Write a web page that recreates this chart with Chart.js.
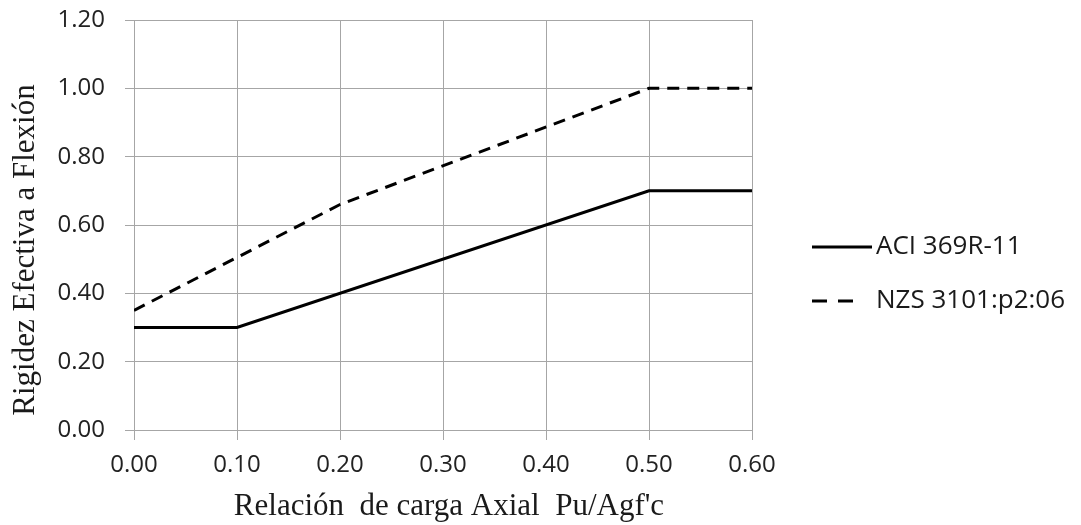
<!DOCTYPE html>
<html lang="es">
<head>
<meta charset="utf-8">
<title>Rigidez efectiva a flexión</title>
<script src="https://cdn.jsdelivr.net/npm/chart.js@4/dist/chart.umd.min.js"></script>
<style>
  html, body { margin: 0; padding: 0; background: #fff; }
  #chart { display: block; }
</style>
</head>
<body>
<canvas id="chart" width="1081" height="525"></canvas>
<script>
// --- datos ---
const aciX = [0, 0.1, 0.5, 0.6];
const aciY = [0.3, 0.3, 0.7, 0.7];
const nzsX = [0, 0.2, 0.5, 0.6];
const nzsY = [0.35, 0.66, 1.0, 1.0];
const xTicks = [0, 0.1, 0.2, 0.3, 0.4, 0.5, 0.6];
const yTicks = [0, 0.2, 0.4, 0.6, 0.8, 1.0, 1.2];
const seriesNames = ["ACI 369R-11", "NZS 3101:p2:06"];
const xTitle = "Relación  de carga Axial  Pu/Agf'c";
const yTitle = "Rigidez Efectiva a Flexión";

const toPoints = (xs, ys) => xs.map((x, i) => ({ x: x, y: ys[i] }));

const gridColor = "#a6a6a6";
const tickFont = { family: "'Open Sans', sans-serif", size: 24 };

// titulos de ejes y leyenda dibujados a mano (posiciones como en la figura)
const extrasPlugin = {
  id: "extras",
  afterDraw(chart) {
    const ctx = chart.ctx;
    ctx.save();
    ctx.fillStyle = "#1a1a1a";
    ctx.font = "31px 'Liberation Serif', serif";
    ctx.textAlign = "center";
    ctx.textBaseline = "middle";
    ctx.fillText(xTitle, 449, 507);
    ctx.translate(26, 250);
    ctx.rotate(-Math.PI / 2);
    ctx.fillText(yTitle, 0, 0);
    ctx.restore();

    // leyenda
    const rows = [247, 301];
    ctx.save();
    chart.data.datasets.forEach((ds, i) => {
      const y = rows[i];
      ctx.strokeStyle = ds.borderColor;
      ctx.lineWidth = ds.borderWidth;
      ctx.setLineDash(ds.borderDash && ds.borderDash.length ? [15, 11] : []);
      ctx.beginPath();
      ctx.moveTo(812, y);
      ctx.lineTo(i === 0 ? 872 : 853, y);
      ctx.stroke();
      ctx.setLineDash([]);
      ctx.fillStyle = "#1a1a1a";
      ctx.font = "26px 'Open Sans', sans-serif";
      ctx.textAlign = "left";
      ctx.textBaseline = "middle";
      ctx.fillText(ds.label, 876, y);
    });
    ctx.restore();
  },
};

new Chart(document.getElementById("chart"), {
  type: "line",
  data: {
    datasets: [
      {
        label: seriesNames[0],
        data: toPoints(aciX, aciY),
        borderColor: "#000",
        borderWidth: 3,
        borderDash: [],
        pointRadius: 0,
        tension: 0,
      },
      {
        label: seriesNames[1],
        data: toPoints(nzsX, nzsY),
        borderColor: "#000",
        borderWidth: 3,
        borderDash: [12, 8],
        pointRadius: 0,
        tension: 0,
      },
    ],
  },
  options: {
    responsive: false,
    animation: false,
    layout: { padding: { left: 34, right: 329, top: 20, bottom: 5 } },
    plugins: {
      legend: { display: false },
      tooltip: { enabled: false },
    },
    scales: {
      x: {
        type: "linear",
        min: 0,
        max: 0.6,
        afterBuildTicks: (scale) => { scale.ticks = xTicks.map((v) => ({ value: v })); },
        afterFit: (scale) => {
          scale.height = 90;
          scale.paddingLeft = 0;
          scale.paddingRight = 0;
        },
        grid: { color: gridColor, lineWidth: 1, tickLength: 10, drawTicks: true },
        border: { color: gridColor, width: 1 },
        ticks: {
          font: tickFont,
          color: "#222",
          padding: 11,
          maxRotation: 0,
          callback: (v) => Number(v).toFixed(2),
        },
      },
      y: {
        type: "linear",
        min: 0,
        max: 1.2,
        afterBuildTicks: (scale) => { scale.ticks = yTicks.map((v) => ({ value: v })); },
        afterFit: (scale) => {
          scale.width = 100;
          scale.paddingTop = 0;
          scale.paddingBottom = 0;
        },
        grid: { color: gridColor, lineWidth: 1, tickLength: 9, drawTicks: true },
        border: { color: gridColor, width: 1 },
        ticks: {
          font: tickFont,
          color: "#222",
          padding: 20,
          callback: (v) => Number(v).toFixed(2),
        },
      },
    },
  },
  plugins: [extrasPlugin],
});
</script>
</body>
</html>
